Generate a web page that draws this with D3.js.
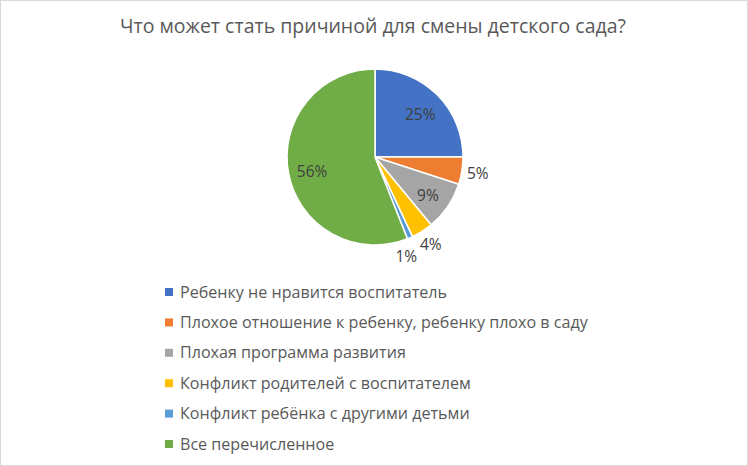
<!DOCTYPE html>
<html><head><meta charset="utf-8">
<script src="https://cdn.jsdelivr.net/npm/d3@7"></script>
<style>body{margin:0;background:#fff}svg{display:block}</style>
</head><body>
<script>
const categories = ["Ребенку не нравится воспитатель","Плохое отношение к ребенку, ребенку плохо в саду","Плохая программа развития","Конфликт родителей с воспитателем","Конфликт ребёнка с другими детьми","Все перечисленное"];
const values = [25,5,9,4,1,56];
const labels = ["25%","5%","9%","4%","1%","56%"];
const colors = ["#4472C4","#ED7D31","#A5A5A5","#FFC000","#5B9BD5","#70AD47"];
const title = "Что может стать причиной для смены детского сада?";

const W=748,H=466;
const svg=d3.select("body").append("svg").attr("width",W).attr("height",H);
svg.append("rect").attr("x",0.5).attr("y",0.5).attr("width",W-1).attr("height",H-1).attr("fill","#fff").attr("stroke","#d9d9d9");
const font="'Open Sans', 'Noto Sans', sans-serif";
svg.append("text").attr("x",373).attr("y",33).attr("text-anchor","middle").attr("font-family",font).attr("font-size",19.5).attr("fill","#595959").text(title);

const cx=375,cy=157,R=88;
const pie=d3.pie().sort(null).value(d=>d)(values);
const arc=d3.arc().innerRadius(0).outerRadius(R);
const g=svg.append("g").attr("transform",`translate(${cx},${cy})`);
g.selectAll("path").data(pie).join("path").attr("d",arc).attr("fill",(d,i)=>colors[i]).attr("stroke","#fff").attr("stroke-width",1.5);
const inR=64,outR=104;
let prevOut=-1;
const pos=pie.map((d,i)=>{
  const mid=(d.startAngle+d.endAngle)/2;
  if(values[i]<=5){
    let a=mid;
    if(prevOut>=0 && a-prevOut<0.26) a=prevOut+0.26;
    prevOut=a;
    return [outR*Math.sin(a),-outR*Math.cos(a)];
  }
  return [inR*Math.sin(mid),-inR*Math.cos(mid)+3];
});
g.selectAll("text").data(pie).join("text")
 .attr("transform",(d,i)=>`translate(${pos[i][0]},${pos[i][1]})`)
 .attr("text-anchor","middle").attr("dy","0.35em").attr("font-family",font).attr("font-size",15.5).attr("fill","#404040")
 .text((d,i)=>labels[i]);

const y=d3.scalePoint().domain(categories).range([292,444]);
const lg=svg.append("g");
const rows=lg.selectAll("g").data(categories).join("g").attr("transform",d=>`translate(165,${y(d)})`);
rows.append("rect").attr("x",0).attr("y",-4).attr("width",8).attr("height",8).attr("fill",(d,i)=>colors[i]);
rows.append("text").attr("x",15).attr("dy","0.35em").attr("font-family",font).attr("font-size",16.1).attr("fill","#595959").text(d=>d);
</script>
</body></html>
